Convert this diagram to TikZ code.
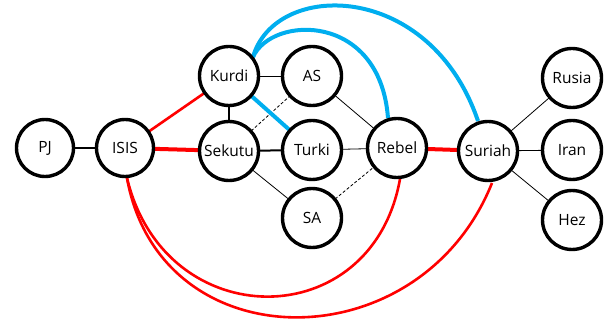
\documentclass[tikz,border=0pt]{standalone}
\usepackage{fontspec}
\setmainfont{Open Sans}
\begin{document}
\begin{tikzpicture}[x=1pt,y=-1pt,
  actor/.style={circle,draw=black,line width=3.4pt,fill=white,minimum size=59pt,inner sep=0pt,font=\fontsize{15.5}{17}\selectfont},
  small/.style={actor,minimum size=57pt},
  tie/.style={draw=black,line width=0.8pt},
  bond/.style={draw=black,line width=2pt},
  weak/.style={draw=black,line width=0.8pt,densely dashed},
  foe/.style={draw=red,line width=2.6pt},
  strongfoe/.style={draw=red,line width=4pt},
  ally/.style={draw={rgb,255:red,0;green,174;blue,239},line width=4pt}]
\useasboundingbox (0,0) rectangle (605,320);

% centres of the actors
\coordinate (pPJ) at (45,148);
\coordinate (pISIS) at (125,148);
\coordinate (pKurdi) at (229,76);
\coordinate (pSekutu) at (229,151);
\coordinate (pAS) at (312,76);
\coordinate (pTurki) at (312,150);
\coordinate (pSA) at (312,218);
\coordinate (pRebel) at (397,148);
\coordinate (pSuriah) at (488,151);
\coordinate (pRusia) at (572,78);
\coordinate (pIran) at (572,150);
\coordinate (pHez) at (572,220);

% direct relations, drawn below the circles
\path[bond] (pPJ) -- (pISIS);
\path[foe] (pISIS) -- (pKurdi);
\path[strongfoe] (pISIS) -- (pSekutu);
\path[tie] (pKurdi) -- (pAS);
\path[bond] (pKurdi) -- (pSekutu);
\path[weak] (pSekutu) -- (pAS);
\path[bond] (pSekutu) -- (pTurki);
\path[tie] (pSekutu) -- (pSA);
\path[tie] (pAS) -- (pRebel);
\path[tie] (pTurki) -- (pRebel);
\path[weak] (pSA) -- (pRebel);
\path[ally] (pKurdi) -- (pTurki);
\path[strongfoe] (pRebel) -- (pSuriah);
\path[tie] (pSuriah) -- (pRusia);
\path[tie] (pSuriah) -- (pIran);
\path[tie] (pSuriah) -- (pHez);

% long-range relations
\path[ally] (253,57) .. controls (272,15) and (380,12) .. (388,118);
\path[ally] (253,57) .. controls (275,-20) and (430,-20) .. (478,121);
\path[foe] (127,178) .. controls (165,336) and (372,336) .. (400,179);
\path[foe] (127,178) .. controls (160,363) and (420,363) .. (492,183);

\node[small] (PJ) at (pPJ) {PJ};
\node[small] (ISIS) at (pISIS) {ISIS};
\node[actor] (Kurdi) at (pKurdi) {Kurdi};
\node[actor] (Sekutu) at (pSekutu) {Sekutu};
\node[actor] (AS) at (pAS) {AS};
\node[actor] (Turki) at (pTurki) {Turki};
\node[actor] (SA) at (pSA) {SA};
\node[actor] (Rebel) at (pRebel) {Rebel};
\node[actor] (Suriah) at (pSuriah) {Suriah};
\node[actor] (Rusia) at (pRusia) {Rusia};
\node[actor] (Iran) at (pIran) {Iran};
\node[actor] (Hez) at (pHez) {Hez};
\end{tikzpicture}
\end{document}
